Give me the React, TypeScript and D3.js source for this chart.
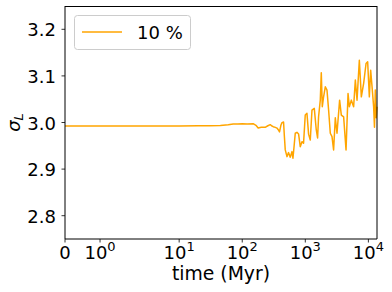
import React, { useEffect, useRef } from 'react';
import * as d3 from 'd3';

// time (Myr) and sigma_L for the 10 % run
const times = [0, 1, 3, 10, 20, 30, 45, 60, 72, 85, 100, 120, 149, 165, 179, 200, 231, 255, 278, 295, 310, 335, 355, 375, 390, 410, 426, 452, 466, 481, 512, 542, 577, 614, 637, 665, 693, 737, 782, 832, 885, 938, 998, 1062, 1127, 1199, 1276, 1388, 1493, 1566, 1623, 1728, 1792, 1859, 1950, 2075, 2207, 2341, 2491, 2650, 2809, 2990, 3181, 3500, 3724, 4053, 4425, 4759, 4990, 5368, 5837, 6211, 6609, 7189, 7734, 8413, 9186, 9741, 10360, 10870, 11430, 12110, 12500, 12890, 13300, 13700];
const sigmaL = [2.9925, 2.9925, 2.9925, 2.9926, 2.9928, 2.9932, 2.9938, 2.9950, 2.9966, 2.9970, 2.9972, 2.9968, 2.9974, 2.9940, 2.9882, 2.9900, 2.9897, 2.9930, 2.9953, 2.9925, 2.9910, 2.9895, 2.9880, 2.9840, 2.9797, 2.9940, 2.9996, 3.0010, 2.9700, 2.9412, 2.9268, 2.9354, 2.9256, 2.9375, 2.9234, 2.9500, 2.9769, 2.9790, 2.9754, 2.9482, 2.9589, 2.9555, 3.0160, 3.0197, 2.9750, 2.9626, 3.0267, 3.0304, 2.9840, 2.9668, 3.0124, 3.0481, 3.1065, 3.0338, 3.0552, 3.0766, 3.0695, 3.0267, 2.9769, 2.9696, 2.9412, 3.0100, 2.9770, 3.0480, 3.0160, 3.0120, 2.9410, 3.0620, 3.0340, 3.0480, 3.0340, 3.0910, 3.0480, 3.1337, 3.0550, 3.0840, 3.1266, 3.1301, 3.0550, 3.1123, 3.0770, 3.0340, 2.9900, 3.0700, 3.0100, 3.0340];

const xTicks = [0, 1, 10, 100, 1000, 10000];
const xTickExp = ['', '0', '1', '2', '3', '4'];
const yTicks = [2.8, 2.9, 3.0, 3.1, 3.2];

const W = 392;
const H = 292;
const FONT = 'DejaVu Sans, sans-serif';
const FS = 18;

// matplotlib symlog transform (linthresh 2, linscale 1, base 10)
const LT = 2;
const LS = 1 / (1 - 1 / 10);
const symlog = (v: number) => {
  const a = Math.abs(v);
  return a <= LT ? v * LS : Math.sign(v) * LT * (LS + Math.log10(a / LT));
};

export default function App() {
  const ref = useRef<SVGSVGElement>(null);

  useEffect(() => {
    const svg = d3.select(ref.current);
    svg.selectAll('*').remove();

    const left = 65, right = 377, top = 6, bottom = 239;

    const xScale = d3.scaleLinear()
      .domain([symlog(0), symlog(13700)])
      .range([left, right]);
    const x = (v: number) => xScale(symlog(v));

    const yScale = d3.scaleLinear()
      .domain([2.75, 3.25])
      .range([bottom, top]);

    svg.append('rect')
      .attr('width', W).attr('height', H).attr('fill', '#fff');

    // data line
    const line = d3.line<number>()
      .x((d, i) => x(times[i]))
      .y(d => yScale(d));

    svg.append('path')
      .datum(sigmaL)
      .attr('d', line)
      .attr('fill', 'none')
      .attr('stroke', 'orange')
      .attr('stroke-width', 1.5)
      .attr('stroke-linejoin', 'round');

    // spines
    const sp = svg.append('g').attr('stroke', '#000').attr('stroke-width', 1);
    sp.append('line').attr('x1', left).attr('x2', left).attr('y1', top).attr('y2', bottom);
    sp.append('line').attr('x1', right).attr('x2', right).attr('y1', top).attr('y2', bottom);
    sp.append('line').attr('x1', left).attr('x2', right).attr('y1', top + 0.5).attr('y2', top + 0.5);
    sp.append('line').attr('x1', left).attr('x2', right).attr('y1', bottom).attr('y2', bottom);

    // y ticks
    const yg = svg.append('g');
    yTicks.forEach(t => {
      const yy = yScale(t);
      yg.append('line')
        .attr('x1', left - 3.5).attr('x2', left)
        .attr('y1', yy).attr('y2', yy)
        .attr('stroke', '#000').attr('stroke-width', 0.8);
      yg.append('text')
        .attr('x', 56).attr('y', yy + 7)
        .attr('text-anchor', 'end')
        .attr('font-family', FONT).attr('font-size', FS)
        .text(t.toFixed(1));
    });

    // x ticks
    const xg = svg.append('g');
    xTicks.forEach((t, i) => {
      const xx = x(t);
      xg.append('line')
        .attr('x1', xx).attr('x2', xx)
        .attr('y1', bottom).attr('y2', bottom + 3.5)
        .attr('stroke', '#000').attr('stroke-width', 0.8);
      const txt = xg.append('text')
        .attr('x', xx).attr('y', 258.5)
        .attr('text-anchor', 'middle')
        .attr('font-family', FONT).attr('font-size', FS);
      if (t === 0) {
        txt.text('0');
      } else {
        txt.append('tspan').text('10');
        txt.append('tspan')
          .attr('dy', -7.5)
          .attr('font-size', 13)
          .text(xTickExp[i]);
      }
    });

    // axis labels
    svg.append('text')
      .attr('x', (left + right) / 2).attr('y', 280)
      .attr('text-anchor', 'middle')
      .attr('font-family', FONT).attr('font-size', 18.8)
      .text('time (Myr)');

    const yl = svg.append('text')
      .attr('transform', `translate(20,${(top + bottom) / 2}) rotate(-90)`)
      .attr('text-anchor', 'middle')
      .attr('font-family', FONT).attr('font-size', FS)
      .attr('font-style', 'italic');
    yl.append('tspan').text('σ');
    yl.append('tspan').attr('dy', 3).attr('font-size', 13).text('L');

    // legend
    const lg = svg.append('g');
    lg.append('rect')
      .attr('x', 74.5).attr('y', 15.5)
      .attr('width', 116).attr('height', 34)
      .attr('rx', 3)
      .attr('fill', '#fff').attr('fill-opacity', 0.8)
      .attr('stroke', '#cccccc').attr('stroke-width', 1);
    lg.append('line')
      .attr('x1', 82).attr('x2', 122)
      .attr('y1', 32).attr('y2', 32)
      .attr('stroke', 'orange').attr('stroke-width', 1.5);
    lg.append('text')
      .attr('x', 137).attr('y', 38.5)
      .attr('font-family', FONT).attr('font-size', FS)
      .text('10 %');
  }, []);

  return (
    <svg ref={ref} width={W} height={H}
      style={{ position: 'absolute', left: 0, top: 0 }} />
  );
}
